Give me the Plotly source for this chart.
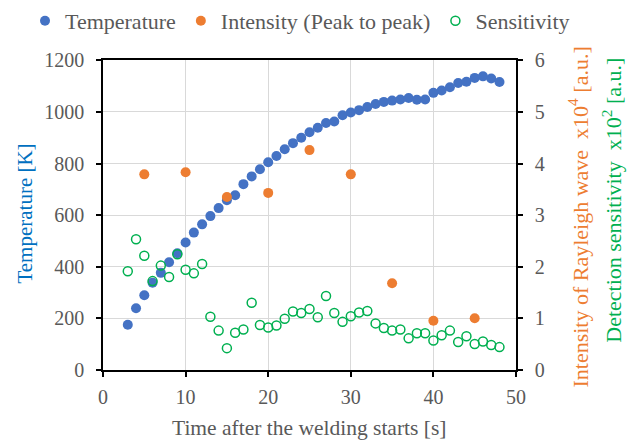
import plotly.graph_objects as go

# ---- data ----
time_s = list(range(3, 49))
temperature = [175, 239, 289, 338, 376, 417, 452, 494, 532, 564, 596, 627, 658, 677,
               720, 750, 778, 805, 829, 855, 879, 900, 921, 939, 957, 963, 987, 998,
               1007, 1019, 1031, 1039, 1044, 1048, 1054, 1047, 1048, 1074, 1083, 1096,
               1112, 1117, 1132, 1138, 1130, 1116]
intensity_time = [5, 10, 15, 20, 25, 30, 35, 40, 45]
intensity = [3.79, 3.83, 3.35, 3.43, 4.26, 3.79, 1.68, 0.95, 1.00]
sensitivity = [1.91, 2.53, 2.21, 1.72, 2.02, 1.80, 2.24, 1.94, 1.87, 2.05, 1.03, 0.76,
               0.42, 0.72, 0.78, 1.30, 0.87, 0.82, 0.86, 0.99, 1.13, 1.10, 1.18, 1.02,
               1.43, 1.10, 0.93, 1.04, 1.11, 1.14, 0.90, 0.81, 0.76, 0.78, 0.61, 0.71,
               0.71, 0.57, 0.67, 0.76, 0.54, 0.65, 0.50, 0.55, 0.48, 0.44]
x_ticks = [0, 10, 20, 30, 40, 50]
y_ticks = [0, 200, 400, 600, 800, 1000, 1200]
y2_ticks = [0, 1, 2, 3, 4, 5, 6]

FONT = "Liberation Serif"
GREY = "#595959"
BLUE = "#4472C4"
ORANGE = "#ED7D31"
GREEN = "#00B050"

W, H = 636, 440
PL, PR, PT, PB = 103, 516, 56, 369  # plot area in pixels


def px(x):
    return x / W


def py(y):
    return 1 - y / H


fig = go.Figure()
fig.add_trace(go.Scatter(x=time_s, y=temperature, mode="markers", name="Temperature",
                         marker=dict(color=BLUE, size=10)))
fig.add_trace(go.Scatter(x=intensity_time, y=intensity, mode="markers",
                         name="Intensity (Peak to peak)", yaxis="y2",
                         marker=dict(color=ORANGE, size=10)))
fig.add_trace(go.Scatter(x=time_s, y=sensitivity, mode="markers", name="Sensitivity",
                         yaxis="y2",
                         marker=dict(color=GREEN, size=9, symbol="circle-open",
                                     line=dict(color=GREEN, width=1.5))))

axis_common = dict(showline=True, linecolor="black", linewidth=1.5, ticks="outside",
                   ticklen=5, tickwidth=1.5, tickcolor="black", automargin=False,
                   tickfont=dict(family=FONT, size=20, color=GREY), zeroline=False)

fig.update_layout(
    width=W, height=H,
    margin=dict(l=0, r=0, t=0, b=0),
    paper_bgcolor="white", plot_bgcolor="white",
    font=dict(family=FONT, color=GREY),
    showlegend=True,
    legend=dict(orientation="h", x=px(25), xanchor="left", y=py(16), yanchor="middle",
                font=dict(family=FONT, size=22, color=GREY),
                bgcolor="rgba(0,0,0,0)"),
    xaxis=dict(range=[0, 50], tickvals=x_ticks, showgrid=True, gridcolor="#d9d9d9",
               gridwidth=1, mirror=True, domain=[px(PL), px(PR)],
               ticklabelstandoff=3, **axis_common),
    yaxis=dict(range=[0, 1200], tickvals=y_ticks, showgrid=True, gridcolor="#d9d9d9",
               gridwidth=1, domain=[py(PB), py(PT)], ticklabelstandoff=8,
               **axis_common),
    yaxis2=dict(range=[0, 6], tickvals=y2_ticks, overlaying="y", side="right",
                showgrid=False, ticklabelstandoff=8, **axis_common),
    annotations=[
        dict(text="Time after the welding starts [s]", xref="paper", yref="paper",
             x=px(309), y=py(428), xanchor="center", yanchor="middle", showarrow=False,
             font=dict(family=FONT, size=21.5, color=GREY)),
        dict(text="Temperature [K]", xref="paper", yref="paper", x=px(25), y=py(211),
             xanchor="center", yanchor="middle", textangle=-90, showarrow=False,
             font=dict(family=FONT, size=21, color="#0070C0")),
        dict(text="Intensity of Rayleigh wave  x10<sup>4</sup> [a.u.]", xref="paper",
             yref="paper", x=px(578), y=py(215), xanchor="center", yanchor="middle",
             textangle=-90, showarrow=False,
             font=dict(family=FONT, size=22, color=ORANGE)),
        dict(text="Detection sensitivity  x10<sup>2</sup> [a.u.]", xref="paper",
             yref="paper", x=px(612), y=py(198), xanchor="center", yanchor="middle",
             textangle=-90, showarrow=False,
             font=dict(family=FONT, size=22, color=GREEN)),
    ],
)

fig.write_html("out.html")
